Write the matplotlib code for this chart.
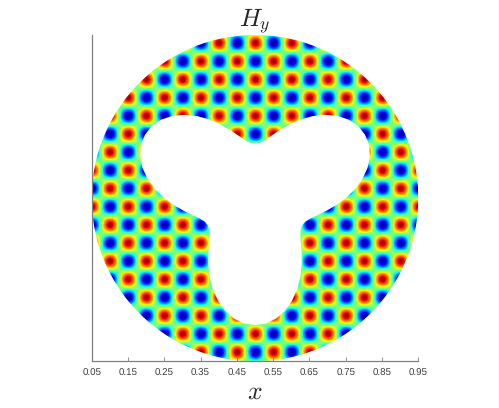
import matplotlib
matplotlib.use("Agg")
import matplotlib.pyplot as plt
from matplotlib.path import Path
from matplotlib.patches import PathPatch
import numpy as np

plt.rcParams["font.family"] = ["Liberation Sans", "DejaVu Sans"]
plt.rcParams["mathtext.fontset"] = "cm"
plt.rcParams["text.hinting"] = "none"

# peak values of the field, 0.05 apart
row_a = [1, -1] * 10 + [1]
row_b = [-1, 1] * 10 + [-1]
field_rows = [row_a, row_b] * 10

x_ticks = [0.05, 0.15, 0.25, 0.35, 0.45, 0.55, 0.65, 0.75, 0.85, 0.95]
x_tick_labels = ["0.05", "0.15", "0.25", "0.35", "0.45", "0.55", "0.65", "0.75", "0.85", "0.95"]

# hole outline: radius from the centre every 5 deg, one lobe tip to the next
hole_radius = [0.350, 0.347, 0.337, 0.321, 0.300, 0.276, 0.250, 0.224, 0.200,
               0.179, 0.163, 0.153, 0.150, 0.153, 0.163, 0.179, 0.200, 0.224,
               0.250, 0.276, 0.300, 0.321, 0.337, 0.347]
hole_start_deg = 30
centre = (0.5, 0.5)
outer_radius = 0.45

W, H = 499, 408
fig = plt.figure(figsize=(W / 100, H / 100), dpi=100)
ax = fig.add_axes([91.7 / W, 1 - 361.3 / H, 326.6 / W, 326.3 / H])

im = ax.imshow(field_rows, origin="lower", extent=(-0.025, 1.025, 0.0, 1.0),
               cmap="jet", vmin=-1.05, vmax=1.05, interpolation="catrom", aspect="auto")
ax.set_xlim(0.05, 0.95)
ax.set_ylim(0.05, 0.95)

# clip to the disc minus the hole
outer = Path.circle(centre, outer_radius)
radii = np.array(hole_radius * 3)
angles = np.radians(hole_start_deg + 5 * np.arange(len(radii)))
hole_xy = np.column_stack([centre[0] + radii * np.cos(angles), centre[1] + radii * np.sin(angles)])
hole = Path(np.vstack([hole_xy[::-1], hole_xy[-1]]), closed=True)
mask = PathPatch(Path.make_compound_path(outer, hole), transform=ax.transData, fc="none", ec="none")
ax.add_patch(mask)
im.set_clip_path(mask)

for s in ["top", "right"]:
    ax.spines[s].set_visible(False)
for s in ["left", "bottom"]:
    ax.spines[s].set_color("#808080")
    ax.spines[s].set_linewidth(0.9)

ax.set_yticks([])
ax.set_xticks(x_ticks, x_tick_labels)
ax.tick_params(axis="x", direction="in", length=3, width=0.6, color="#808080",
               labelsize=7, labelcolor="#404040", pad=5.5)

ax.set_title(r"$H_y$", fontsize=18, pad=5.5, color="#262626")
ax.set_xlabel(r"$x$", fontsize=18.5, labelpad=1, color="#262626")

fig.savefig("out.png", dpi=100)
